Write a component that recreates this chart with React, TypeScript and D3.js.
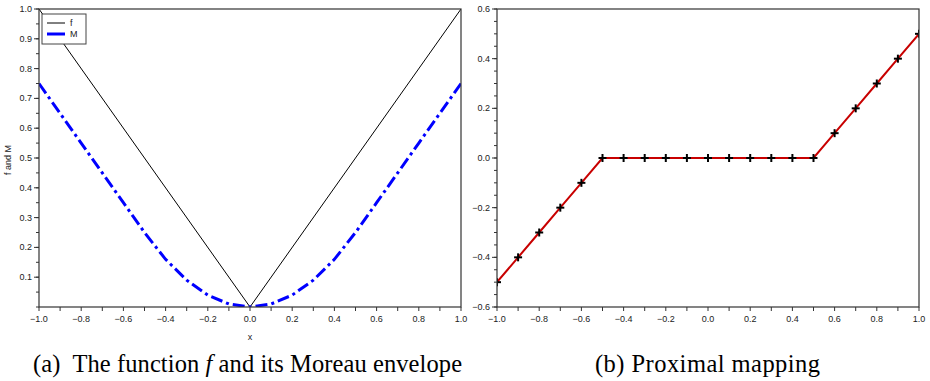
import React from "react";
import * as d3 from "d3";

const xs = [-1.0, -0.9, -0.8, -0.7, -0.6, -0.5, -0.4, -0.3, -0.2, -0.1, 0.0, 0.1, 0.2, 0.3, 0.4, 0.5, 0.6, 0.7, 0.8, 0.9, 1.0];
const fX = [-1.0, 0.0, 1.0];
const fY = [1.0, 0.0, 1.0];
const moreauY = [0.75, 0.65, 0.55, 0.45, 0.35, 0.25, 0.16, 0.09, 0.04, 0.01, 0.0, 0.01, 0.04, 0.09, 0.16, 0.25, 0.35, 0.45, 0.55, 0.65, 0.75];
const proxY = [-0.5, -0.4, -0.3, -0.2, -0.1, 0.0, 0.0, 0.0, 0.0, 0.0, 0.0, 0.0, 0.0, 0.0, 0.0, 0.0, 0.1, 0.2, 0.3, 0.4, 0.5];
const xTickLabels = [-1.0, -0.8, -0.6, -0.4, -0.2, 0.0, 0.2, 0.4, 0.6, 0.8, 1.0];
const leftYLabels = [0.1, 0.2, 0.3, 0.4, 0.5, 0.6, 0.7, 0.8, 0.9, 1.0];
const rightYLabels = [-0.6, -0.4, -0.2, 0.0, 0.2, 0.4, 0.6];

const TOP = 9;
const BOTTOM = 307;
const FONT = "Liberation Sans, Arial, sans-serif";
const SERIF = "'Liberation Serif', 'Times New Roman', serif";
const AXIS = "#333";

function range(a: number, b: number, step: number) {
  const out: number[] = [];
  const n = Math.round((b - a) / step);
  for (let i = 0; i <= n; i++) out.push(+(a + i * step).toFixed(4));
  return out;
}

function Frame({ x, y, xMinor, yMinor, yLabels }: any) {
  const [x0, x1] = x.range();
  const [y0, y1] = y.range();
  const fmt = d3.format(".1f");
  return (
    <g>
      <rect x={x0} y={y1} width={x1 - x0} height={y0 - y1} fill="none" stroke={AXIS} strokeWidth={1.2} />
      {xMinor.map((v: number, i: number) => (
        <line key={"xm" + i} x1={x(v)} x2={x(v)} y1={y0} y2={y0 + 4} stroke={AXIS} strokeWidth={1} />
      ))}
      {xTickLabels.map((v, i) => (
        <text key={"xl" + i} x={x(v)} y={y0 + 15} fontSize={9} fontFamily={FONT} textAnchor="middle" fill="#222">
          {fmt(v)}
        </text>
      ))}
      {yMinor.map((v: number, i: number) => (
        <line key={"ym" + i} x1={x0 - 3} x2={x0} y1={y(v)} y2={y(v)} stroke={AXIS} strokeWidth={1} />
      ))}
      {yLabels.map((v: number, i: number) => (
        <g key={"yl" + i}>
          <line x1={x0 - 5} x2={x0} y1={y(v)} y2={y(v)} stroke={AXIS} strokeWidth={1} />
          <text x={x0 - 7} y={y(v) + 3} fontSize={9} fontFamily={FONT} textAnchor="end" fill="#222">
            {fmt(v)}
          </text>
        </g>
      ))}
    </g>
  );
}

export default function App() {
  const xL = d3.scaleLinear().domain([-1, 1]).range([39, 461]);
  const yL = d3.scaleLinear().domain([0, 1]).range([BOTTOM, TOP]);
  const xR = d3.scaleLinear().domain([-1, 1]).range([497, 919]);
  const yR = d3.scaleLinear().domain([-0.6, 0.6]).range([BOTTOM, TOP]);

  const lineL = d3.line<[number, number]>().x((d) => xL(d[0])).y((d) => yL(d[1]));
  const lineR = d3.line<[number, number]>().x((d) => xR(d[0])).y((d) => yR(d[1]));

  const fPts = fX.map((v, i) => [v, fY[i]] as [number, number]);
  const mPts = xs.map((v, i) => [v, moreauY[i]] as [number, number]);
  const pPts = xs.map((v, i) => [v, proxY[i]] as [number, number]);

  const xMinor = range(-1, 1, 0.1);
  const yMinorL = range(0, 1, 0.05);
  const yMinorR = range(-0.6, 0.6, 0.05);

  return (
    <svg width={930} height={381} style={{ position: "absolute", left: 0, top: 0, background: "#fff" }}>
      <defs>
        <clipPath id="clipL">
          <rect x={39} y={TOP} width={422} height={BOTTOM - TOP} />
        </clipPath>
        <clipPath id="clipR">
          <rect x={497} y={TOP} width={422} height={BOTTOM - TOP} />
        </clipPath>
      </defs>
      <rect x={0} y={0} width={930} height={381} fill="#fff" />

      {/* Left chart */}
      <g clipPath="url(#clipL)">
        <path d={lineL(fPts) || ""} fill="none" stroke="#000" strokeWidth={1} />
        <path d={lineL(mPts) || ""} fill="none" stroke="#0000ff" strokeWidth={3} strokeDasharray="12,4,3,4" />
      </g>
      <Frame x={xL} y={yL} xMinor={xMinor} yMinor={yMinorL} yLabels={leftYLabels} />
      <text x={250} y={340} fontSize={9} fontFamily={FONT} textAnchor="middle" fill="#222">x</text>
      <text transform="translate(11,160) rotate(-90)" fontSize={9} fontFamily={FONT} textAnchor="middle" fill="#222">f and M</text>
      <g>
        <rect x={42} y={14} width={44} height={30} fill="#fff" stroke="#444" strokeWidth={1} />
        <line x1={47} x2={65} y1={23} y2={23} stroke="#000" strokeWidth={1} />
        <text x={70} y={26} fontSize={9} fontFamily={FONT} fill="#222">f</text>
        <line x1={47} x2={65} y1={34} y2={34} stroke="#0000ff" strokeWidth={3} />
        <text x={70} y={37} fontSize={9} fontFamily={FONT} fill="#222">M</text>
      </g>

      {/* Right chart */}
      <g clipPath="url(#clipR)">
        <path d={lineR(pPts) || ""} fill="none" stroke="#c80000" strokeWidth={2} />
        {pPts.map((p, i) => (
          <g key={"m" + i} stroke="#000" strokeWidth={2}>
            <line x1={xR(p[0]) - 4} x2={xR(p[0]) + 4} y1={yR(p[1])} y2={yR(p[1])} />
            <line x1={xR(p[0])} x2={xR(p[0])} y1={yR(p[1]) - 4} y2={yR(p[1]) + 4} />
          </g>
        ))}
      </g>
      <Frame x={xR} y={yR} xMinor={xMinor} yMinor={yMinorR} yLabels={rightYLabels} />

      {/* Captions */}
      <text x={33} y={372} fontSize={24.5} fontFamily={SERIF} fill="#000" textLength={429} lengthAdjust="spacing" style={{ whiteSpace: "pre" }}>
        {"(a)  The function "}
        <tspan fontStyle="italic">f</tspan>
        {" and its Moreau envelope"}
      </text>
      <text x={595} y={372} fontSize={24.5} fontFamily={SERIF} fill="#000" textLength={225} lengthAdjust="spacing">
        (b) Proximal mapping
      </text>
    </svg>
  );
}
